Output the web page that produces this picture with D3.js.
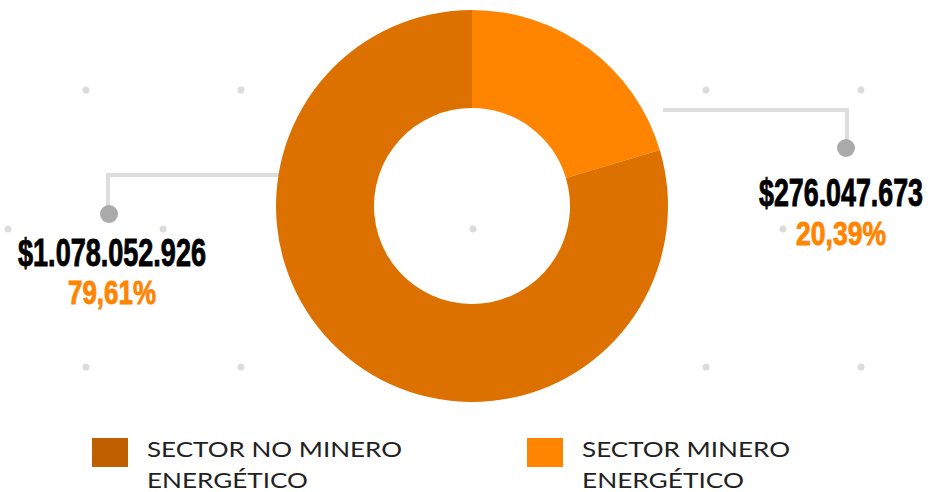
<!DOCTYPE html>
<html>
<head>
<meta charset="utf-8">
<script src="https://cdn.jsdelivr.net/npm/d3@7"></script>
<style>
  html, body { margin: 0; padding: 0; background: #fff; }
  svg { display: block; }
</style>
</head>
<body>
<svg id="chart" width="931" height="492"></svg>
<script>
// data
const sectors = ['SECTOR MINERO ENERGÉTICO', 'SECTOR NO MINERO ENERGÉTICO'];
const amounts = [276047673, 1078052926];
const sliceColors = ['#FF8400', '#DD7100'];
const legendColors = ['#FF8400', '#BE5F00'];
const legendLines = [['SECTOR NO MINERO', 'ENERGÉTICO'], ['SECTOR MINERO', 'ENERGÉTICO']];

const W = 931, H = 492;
const cx = 472, cy = 206;
const outerR = 196, innerR = 98;

const svg = d3.select('#chart');

// spanish number formats
const es = d3.formatLocale({ decimal: ',', thousands: '.', grouping: [3], currency: ['$', ''] });
const fmtMoney = es.format('$,.0f');
const fmtPct = es.format('.2f');
const total = d3.sum(amounts);

// decorative dot grid in the background
const dotG = svg.append('g').attr('fill', '#dcdcdc');
[90, 367].forEach(y => {
  for (let x = 86; x < W; x += 155) dotG.append('circle').attr('cx', x).attr('cy', y).attr('r', 3.5);
});
for (let x = 8; x < W; x += 155) dotG.append('circle').attr('cx', x).attr('cy', 229).attr('r', 3.5);

// connector lines (behind the donut)
const connG = svg.append('g').attr('fill', 'none').attr('stroke', '#dddddd').attr('stroke-width', 4);
connG.append('path').attr('d', 'M 300,175 H 108 V 212');
connG.append('path').attr('d', 'M 663,110 H 847 V 146');
svg.append('circle').attr('cx', 109).attr('cy', 214).attr('r', 9).attr('fill', '#aaaaaa');
svg.append('circle').attr('cx', 846).attr('cy', 148).attr('r', 9).attr('fill', '#aaaaaa');

// donut
const pie = d3.pie().sort(null).value(d => d);
const arc = d3.arc().innerRadius(innerR).outerRadius(outerR);
svg.append('g')
  .attr('transform', `translate(${cx}, ${cy})`)
  .selectAll('path')
  .data(pie(amounts))
  .enter()
  .append('path')
  .attr('d', arc)
  .attr('fill', (d, i) => sliceColors[i]);

// condensed heavy text: squeeze horizontally to a target width
function squeezed(x, y, txt, size, color, width) {
  const t = svg.append('text')
    .attr('text-anchor', 'middle')
    .attr('font-family', '"Liberation Sans", Arial, sans-serif')
    .attr('font-weight', 'bold')
    .attr('font-size', size)
    .attr('fill', color)
    .attr('stroke', color)
    .attr('stroke-width', 0.9)
    .text(txt);
  const sx = width / t.node().getComputedTextLength();
  t.attr('transform', `translate(${x}, ${y}) scale(${sx}, 1)`);
}

// value labels
const labels = [
  { i: 1, x: 112, y1: 266, y2: 304, w1: 188, w2: 88 },
  { i: 0, x: 841, y1: 206, y2: 245, w1: 164, w2: 90 }
];
labels.forEach(l => {
  squeezed(l.x, l.y1, fmtMoney(amounts[l.i]), 38, '#000', l.w1);
  squeezed(l.x, l.y2, fmtPct(amounts[l.i] / total * 100) + '%', 34, '#FF8400', l.w2);
});

// legend
const legendPos = [
  { x: 92, widths: [255, 161] },
  { x: 527, widths: [208, 162] }
];
legendPos.forEach((p, k) => {
  const g = svg.append('g');
  g.append('rect')
    .attr('x', p.x).attr('y', 438)
    .attr('width', 36).attr('height', 29)
    .attr('fill', legendColors[k === 0 ? 1 : 0]);
  legendLines[k].forEach((line, j) => {
    g.append('text')
      .attr('x', p.x + 55).attr('y', 457 + j * 31)
      .attr('font-family', 'Lato, "Noto Sans", sans-serif')
      .attr('font-size', 22)
      .attr('fill', '#222')
      .attr('textLength', p.widths[j]).attr('lengthAdjust', 'spacingAndGlyphs')
      .text(line);
  });
});
</script>
</body>
</html>
